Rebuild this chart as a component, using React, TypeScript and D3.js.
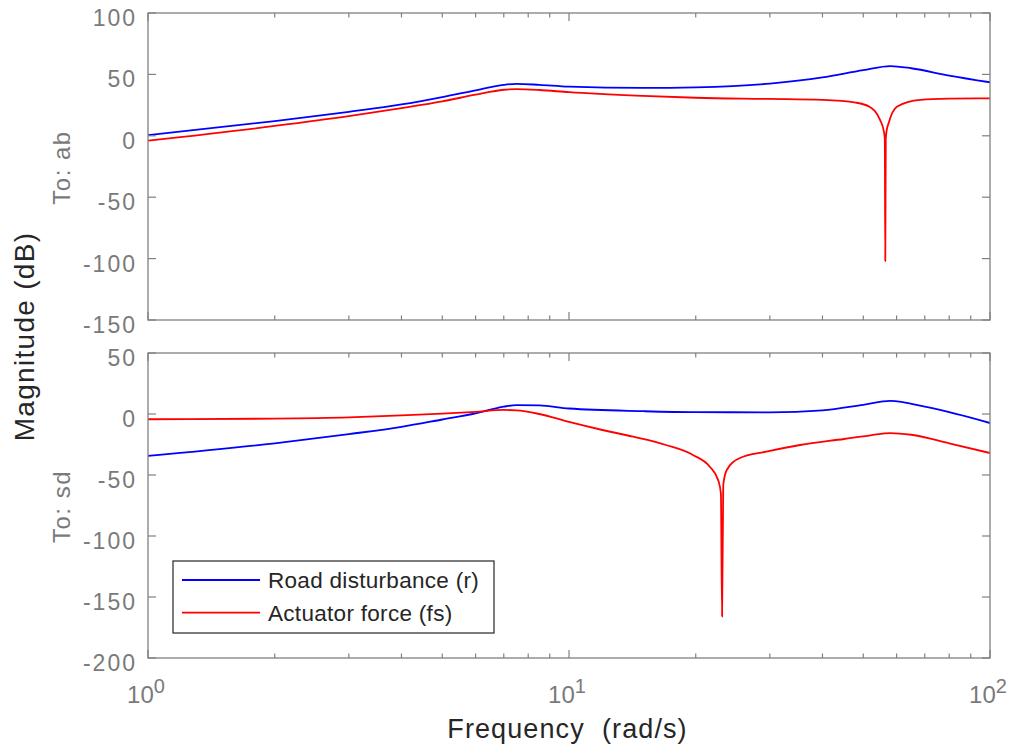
import React from 'react';
import * as d3 from 'd3';

// ---- data ----
const abRoadF = [1, 2, 3, 4, 5, 6, 7, 7.5, 8.5, 10, 15, 20, 30, 40, 50, 58, 65, 80, 100];
const abRoadDb = [0.5, 12, 19.5, 25.5, 31.5, 37, 41.5, 42.3, 41.5, 40, 39, 39.5, 42.5, 47.5, 53.5, 56.8, 55, 49, 43.6];

const abForceF = [1, 2, 3, 4, 5, 6, 7, 7.5, 8.5, 10, 15, 20, 30, 40, 48, 51.7, 54.8, 56, 56.25, 56.4, 56.55, 56.8, 57.4, 60.1, 68.3, 80, 100];
const abForceDb = [-4, 8, 16, 22.5, 28, 33.5, 37.5, 38, 37.3, 35.5, 32.5, 31, 30, 29.2, 27, 23.7, 13, 3, -3, -102, -3, 4, 10, 23.7, 29.2, 30.2, 30.5];

const sdRoadF = [1, 2, 3, 4, 5, 6, 7, 7.5, 8.5, 10, 15, 20, 30, 40, 50, 58, 70, 80, 100];
const sdRoadDb = [-34.4, -24, -16.5, -10.5, -4.5, 0.5, 6, 7.3, 7, 4.5, 2.3, 1.5, 1.4, 3, 7.5, 10.7, 6, 1.5, -7.4];

const sdForceF = [1, 2, 3, 4, 5, 6, 7, 7.5, 8.5, 10, 11.8, 14.2, 17, 19.7, 21.6, 22.6, 22.95, 23.1, 23.25, 23.7, 25.4, 29.4, 35.4, 45, 52, 58, 65, 80, 100];
const sdForceDb = [-4.3, -3.8, -2.8, -1.2, 0.3, 1.8, 3.3, 3, 0, -6.5, -12.5, -18.6, -25.4, -33.6, -43.2, -54, -65, -166, -58, -45.9, -36.3, -30.9, -25.4, -20.5, -17.5, -15.6, -17, -24, -32];

const topTicks = [100, 50, 0, -50, -100, -150];
const botTicks = [50, 0, -50, -100, -150, -200];
const xMajor = [1, 10, 100];
const xMajorExp = ['0', '1', '2'];
const xMinor = [2, 3, 4, 5, 6, 7, 8, 9, 20, 30, 40, 50, 60, 70, 80, 90];

const seriesNames = ['Road disturbance (r)', 'Actuator force (fs)'];
const seriesColors = ['#0000ff', '#ff0000'];

const FONT = '"Liberation Sans", Arial, Helvetica, sans-serif';
const AX = '#808080';
const TXT = '#7a7a7a';

export default function App() {
  const x = d3.scaleLog().domain([1, 100]).range([148, 990]);
  const yTop = d3.scaleLinear().domain([-150, 100]).range([320, 13]);
  const yBot = d3.scaleLinear().domain([-200, 50]).range([658, 353]);

  const mkLine = (y: d3.ScaleLinear<number, number>) =>
    d3.line<[number, number]>().x(d => x(d[0])).y(d => y(d[1])).curve(d3.curveMonotoneX);

  const zip = (f: number[], v: number[]) => f.map((ff, i) => [ff, v[i]] as [number, number]);

  const panel = (y: d3.ScaleLinear<number, number>, ticks: number[], label: string, series: [number, number][][], key: string) => {
    const [d0, d1] = y.domain();
    const top = y(d1), bot = y(d0);
    const left = x(1), right = x(100);
    const line = mkLine(y);
    return (
      <g key={key}>
        <defs>
          <clipPath id={'clip' + key}>
            <rect x={left} y={top} width={right - left} height={bot - top} />
          </clipPath>
        </defs>
        <rect x={left} y={top} width={right - left} height={bot - top} fill="#fff" />
        <g clipPath={`url(#clip${key})`}>
          {series.map((s, i) => (
            <path key={i} d={line(s) || ''} fill="none" stroke={seriesColors[i]} strokeWidth={1.8} strokeLinejoin="round" />
          ))}
        </g>
        {ticks.map(t => (
          <g key={'yt' + t}>
            <line x1={left} x2={left + 8} y1={y(t)} y2={y(t)} stroke={AX} strokeWidth={1.2} />
            <line x1={right} x2={right - 8} y1={y(t)} y2={y(t)} stroke={AX} strokeWidth={1.2} />
            <text x={137} y={y(t) + 13} textAnchor="end" fontFamily={FONT} fontSize={23} letterSpacing={2} fill={TXT}>{t}</text>
          </g>
        ))}
        {xMajor.map(t => (
          <g key={'xM' + t}>
            <line x1={x(t)} x2={x(t)} y1={bot} y2={bot - 8} stroke={AX} strokeWidth={1.2} />
            <line x1={x(t)} x2={x(t)} y1={top} y2={top + 8} stroke={AX} strokeWidth={1.2} />
          </g>
        ))}
        {xMinor.map(t => (
          <g key={'xm' + t}>
            <line x1={x(t)} x2={x(t)} y1={bot} y2={bot - 4.5} stroke={AX} strokeWidth={1.2} />
            <line x1={x(t)} x2={x(t)} y1={top} y2={top + 4.5} stroke={AX} strokeWidth={1.2} />
          </g>
        ))}
        <rect x={left} y={top} width={right - left} height={bot - top} fill="none" stroke={AX} strokeWidth={1.3} />
        <text transform={`translate(70,${(top + bot) / 2 + 1}) rotate(-90)`} textAnchor="middle" fontFamily={FONT} fontSize={24} letterSpacing={1.5} fill={TXT}>{label}</text>
      </g>
    );
  };

  return (
    <svg width={1014} height={747} style={{ position: 'absolute', left: 0, top: 0, background: '#fff' }}>
      <rect x={0} y={0} width={1014} height={747} fill="#fff" />
      {panel(yTop, topTicks, 'To: ab', [zip(abRoadF, abRoadDb), zip(abForceF, abForceDb)], 'a')}
      {panel(yBot, botTicks, 'To: sd', [zip(sdRoadF, sdRoadDb), zip(sdForceF, sdForceDb)], 'b')}

      {xMajor.map((t, i) => (
        <text key={'xl' + t} x={x(t) - 2} y={703} textAnchor="middle" fontFamily={FONT} fill={TXT}>
          <tspan fontSize={24}>10</tspan>
          <tspan fontSize={20} dy={-10}>{xMajorExp[i]}</tspan>
        </text>
      ))}

      <text x={567.5} y={738} textAnchor="middle" fontFamily={FONT} fontSize={27} letterSpacing={1.1} fill="#262626" style={{ whiteSpace: 'pre' }}>{'Frequency  (rad/s)'}</text>
      <text transform="translate(34,336.5) rotate(-90)" textAnchor="middle" fontFamily={FONT} fontSize={28} letterSpacing={1.3} fill="#262626">Magnitude (dB)</text>

      <g>
        <rect x={173} y={561} width={321} height={72} fill="#fff" stroke="#262626" strokeWidth={1.2} />
        {seriesNames.map((n, i) => (
          <g key={n}>
            <line x1={182} x2={260} y1={580 + i * 32.7} y2={580 + i * 32.7} stroke={seriesColors[i]} strokeWidth={1.8} />
            <text x={268} y={588 + i * 32.7} fontFamily={FONT} fontSize={22.5} letterSpacing={0.3} fill="#262626">{n}</text>
          </g>
        ))}
      </g>
    </svg>
  );
}
